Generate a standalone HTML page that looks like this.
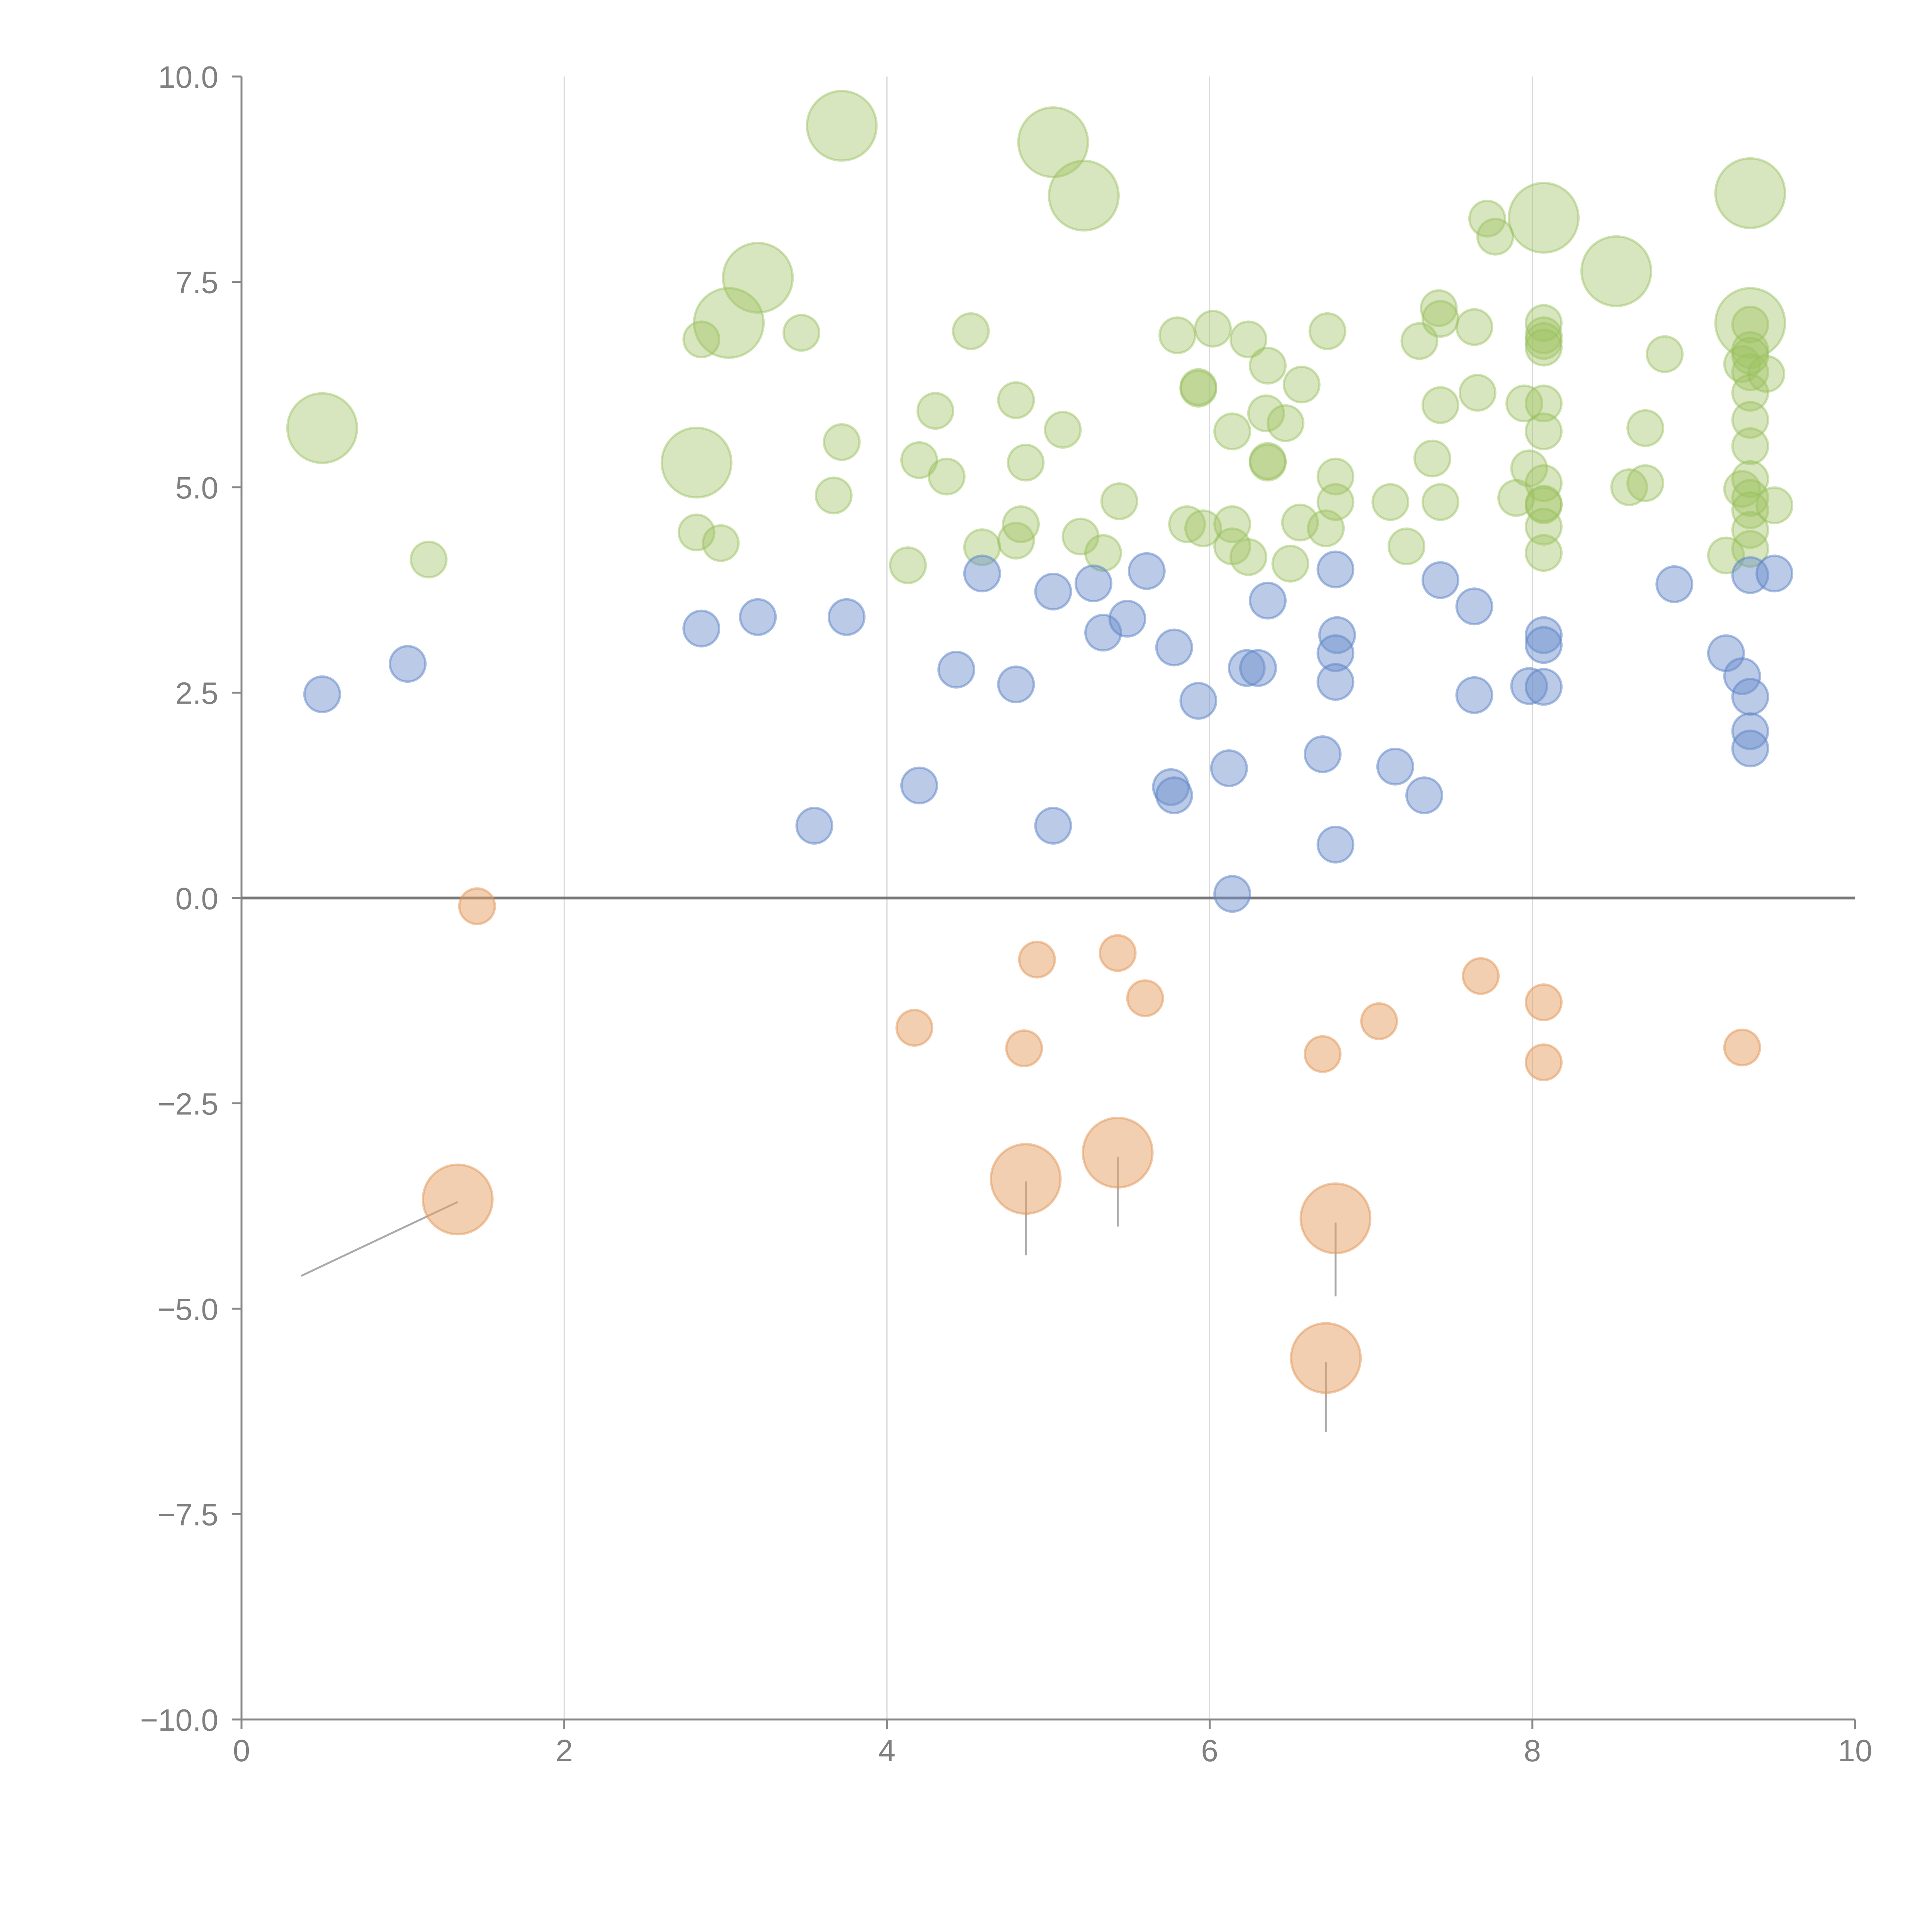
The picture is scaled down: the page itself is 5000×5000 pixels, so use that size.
<!DOCTYPE html>
<html><head><meta charset="utf-8"><style>
html,body{margin:0;padding:0;background:#fff;}
svg{display:block;font-family:"Liberation Sans",sans-serif;}
</style></head><body>
<svg id="chart" width="5000" height="5000" viewBox="0 0 5000 5000" xmlns="http://www.w3.org/2000/svg">
<g id="grid"></g>
<g id="axes"></g>
<g id="leaders"></g>
<g id="marks"></g>
</svg>
<script>
const greenX=[3.72,5.03,5.22,3.2,3.02,0.5,2.82,8.07,8.52,9.35,9.35,1.16,2.85,3.47,2.82,2.97,3.72,3.67,4.13,4.2,4.3,4.37,4.52,4.59,4.8,4.8,4.83,4.86,5.09,5.2,5.34,5.44,5.8,5.86,5.93,5.93,5.96,6.02,6.14,6.14,6.14,6.24,6.24,6.35,6.36,6.36,6.36,6.47,6.5,6.56,6.57,6.73,6.72,6.78,6.78,7.12,7.22,7.3,7.38,7.42,7.43,7.43,7.43,7.64,7.66,7.72,7.77,7.9,7.95,7.98,8.07,8.07,8.07,8.07,8.07,8.07,8.07,8.07,8.07,8.07,8.07,8.6,8.7,8.7,8.82,9.2,9.3,9.3,9.35,9.35,9.35,9.35,9.35,9.35,9.35,9.35,9.35,9.35,9.35,9.45,9.5,9.35];
const greenY=[9.4,9.2,8.55,7.55,7.0,5.72,5.3,8.28,7.63,8.58,7.0,4.12,6.8,6.88,4.45,4.32,5.55,4.9,4.05,5.33,5.93,5.13,6.9,4.27,6.06,4.35,4.55,5.3,5.7,4.4,4.2,4.83,6.85,4.55,6.2,6.22,4.5,6.93,5.68,4.55,4.28,6.8,4.15,5.9,6.48,5.3,5.32,5.78,4.07,4.57,6.25,6.9,4.5,5.13,4.82,4.82,4.28,6.78,5.35,7.18,7.05,6.0,4.82,6.95,6.15,8.27,8.05,4.87,6.02,5.23,7.0,6.85,6.78,6.7,6.02,5.68,5.05,4.78,4.8,4.52,4.2,5.0,5.05,5.72,6.62,4.17,6.5,4.98,6.98,6.67,6.4,6.15,5.82,5.5,5.1,4.87,4.72,4.48,4.25,6.38,4.78,6.6];
const greenSize=[2,2,2,2,2,2,2,2,2,2,2];
const blueX=[0.5,1.03,2.85,3.2,3.55,3.75,4.2,4.43,4.59,4.8,5.03,5.03,5.28,5.34,5.49,5.61,5.78,5.76,5.78,5.93,6.12,6.14,6.23,6.3,6.36,6.7,6.78,6.79,6.78,6.78,6.78,7.15,7.33,7.43,7.64,7.64,7.98,8.07,8.07,8.07,8.88,9.2,9.3,9.35,9.35,9.35,9.35,9.5];
const blueY=[2.48,2.85,3.28,3.42,0.88,3.42,1.37,2.78,3.95,2.6,3.73,0.88,3.83,3.23,3.4,3.98,3.05,1.35,1.25,2.4,1.58,0.05,2.8,2.8,3.62,1.75,4.0,3.2,2.98,2.63,0.65,1.6,1.25,3.87,3.55,2.47,2.58,3.2,3.08,2.57,3.82,2.98,2.7,3.93,2.45,2.03,1.82,3.95];
const orangeX=[1.34,4.86,5.43,6.78,6.72,1.46,4.17,4.85,4.93,5.43,5.6,6.7,7.05,7.68,8.07,8.07,9.3];
const orangeY=[-3.67,-3.42,-3.1,-3.9,-5.6,-0.1,-1.58,-1.83,-0.75,-0.67,-1.22,-1.9,-1.5,-0.95,-1.27,-2.0,-1.82];
const orangeSize=[2,2,2,2,2];
const xTicks=[0,2,4,6,8,10];
const yTicks=[-10,-7.5,-5,-2.5,0,2.5,5,7.5,10];
const yTickLabels=["\u221210.0","\u22127.5","\u22125.0","\u22122.5","0.0","2.5","5.0","7.5","10.0"];
const leaderFromX=[1.34,4.86,5.43,6.78,6.72];
const leaderFromY=[-3.7,-3.45,-3.15,-3.95,-5.65];
const leaderToX=[0.37,4.86,5.43,6.78,6.72];
const leaderToY=[-4.6,-4.35,-4.0,-4.85,-6.5];

const X=v=>625+v*417.6, Y=v=>2324-v*212.6;
const NS="http://www.w3.org/2000/svg";
function mk(tag,parent,attrs){const e=document.createElementNS(NS,tag);for(const k in attrs)e.setAttribute(k,attrs[k]);parent.appendChild(e);return e;}
const grid=document.getElementById('grid'),axes=document.getElementById('axes'),marks=document.getElementById('marks'),leaders=document.getElementById('leaders');
xTicks.forEach((t,i)=>{
  if(t>0&&t<10){const g=mk('line',grid,{x1:X(t),x2:X(t),y1:Y(10),y2:Y(-10),stroke:'#d9d9d9','stroke-width':3});
  
  }
  const tk=mk('line',axes,{x1:X(t),x2:X(t),y1:Y(-10),y2:Y(-10)+25,stroke:'#888','stroke-width':5});
  
  
  const tx=mk('text',axes,{x:X(t),y:Y(-10)+108,'text-anchor':'middle','font-size':80,fill:'#808080'});
  tx.textContent=String(t);
  
  
});
yTicks.forEach((t,i)=>{
  const tk=mk('line',axes,{x1:X(0)-25,x2:X(0),y1:Y(t),y2:Y(t),stroke:'#888','stroke-width':5});
  
  
  const tx=mk('text',axes,{x:X(0)-60,y:Y(t)+29,'text-anchor':'end','font-size':80,fill:'#808080'});
  tx.textContent=yTickLabels[i];
  
  
});
const ya=mk('line',axes,{x1:X(0),x2:X(0),y1:Y(10),y2:Y(-10),stroke:'#888','stroke-width':5});


const xa=mk('line',axes,{x1:X(0),x2:X(10),y1:Y(-10),y2:Y(-10),stroke:'#888','stroke-width':5});


const zl=mk('line',axes,{x1:X(0),x2:X(10),y1:Y(0),y2:Y(0),stroke:'#777','stroke-width':7});


leaderFromX.forEach((v,i)=>{
  const l=mk('line',leaders,{x1:X(v),y1:Y(leaderFromY[i]),x2:X(leaderToX[i]),y2:Y(leaderToY[i]),stroke:'#aaa','stroke-width':5});
  
  
});
function series(xs,ys,sizes,fill,stroke,name){
  xs.forEach((v,i)=>{
    const r=(sizes[i]||1)===2?90:46;
    const c=mk('circle',marks,{cx:X(v),cy:Y(ys[i]),r:r,fill:fill,stroke:stroke,'stroke-width':6});
    
    
  });
}
series(greenX,greenY,greenSize,'rgba(160,195,100,0.42)','rgba(150,190,90,0.45)','green-bubble');
series(blueX,blueY,[],'rgba(110,145,205,0.48)','rgba(90,130,200,0.5)','blue-bubble');
series(orangeX,orangeY,orangeSize,'rgba(232,160,100,0.5)','rgba(225,150,85,0.5)','orange-bubble');
</script>
</body></html>
